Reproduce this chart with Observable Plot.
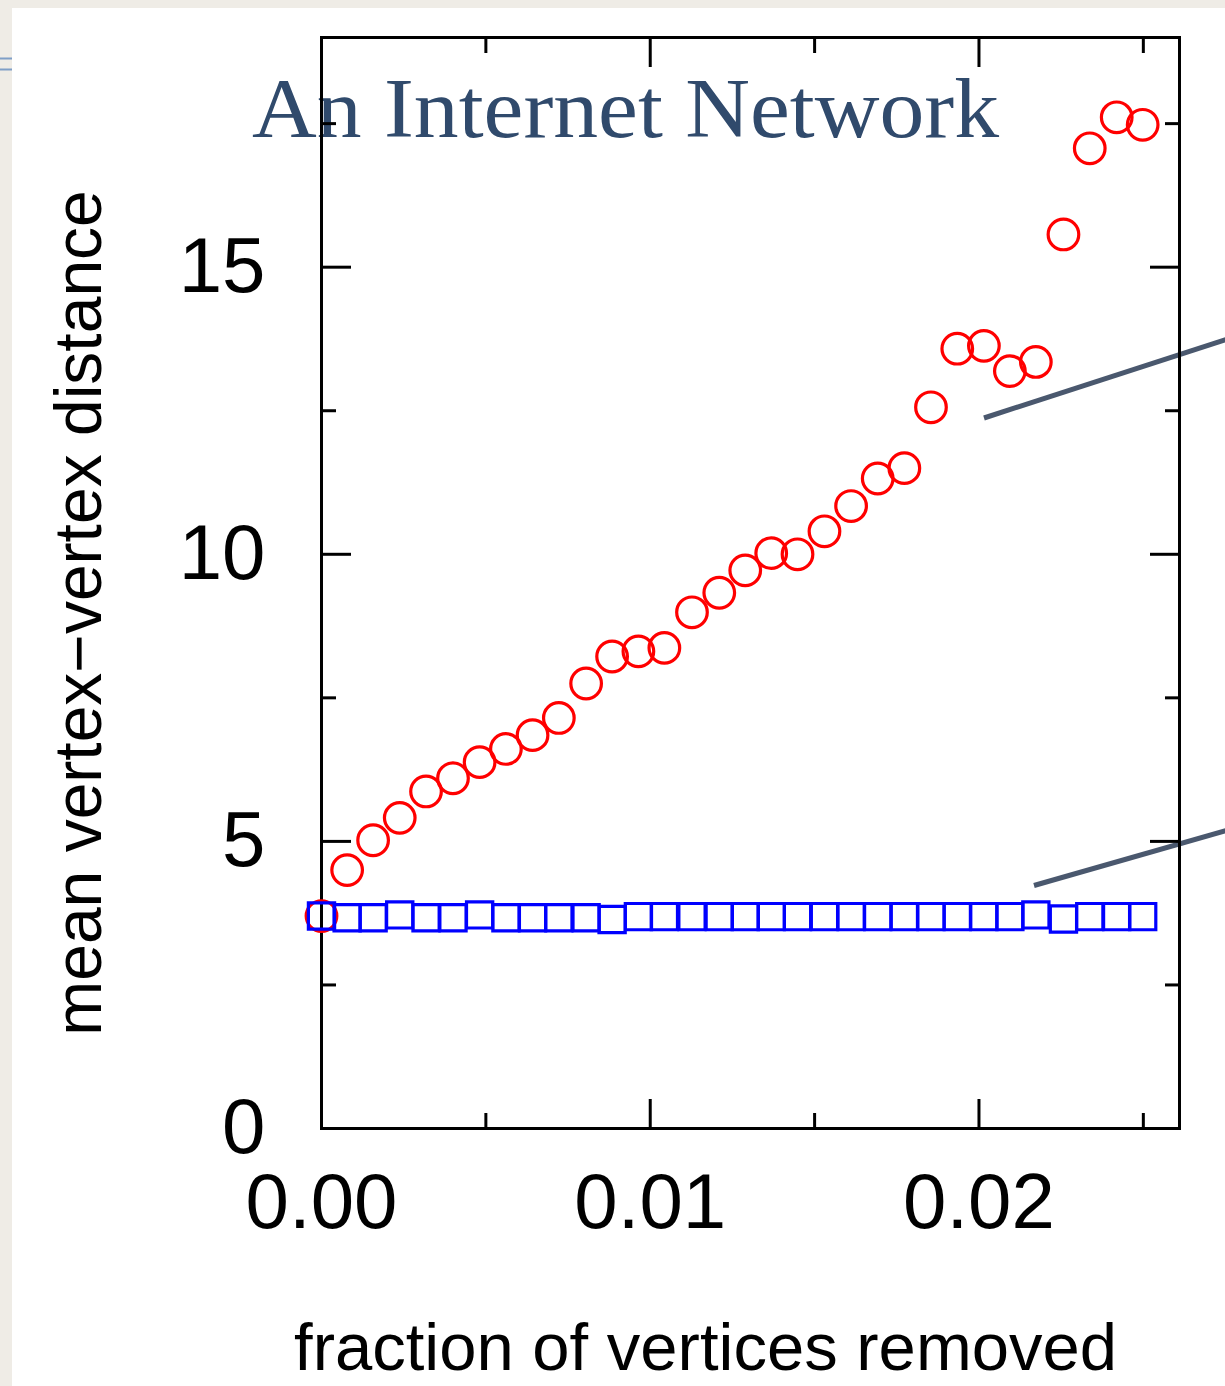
<!DOCTYPE html>
<html>
<head>
<meta charset="utf-8">
<script src="https://cdn.jsdelivr.net/npm/d3@7"></script>
<script src="https://cdn.jsdelivr.net/npm/@observablehq/plot@0.6"></script>
<style>
  html, body { margin: 0; padding: 0; background: #efece6; }
  #wrap { position: relative; width: 1225px; height: 1386px; overflow: hidden; background: #efece6; }
  #panel { position: absolute; left: 12px; top: 8px; right: 0; bottom: 0; background: #ffffff; }
  #deco { position: absolute; left: 0; top: 0; }
  #chart { position: absolute; left: 0; top: 0; }
</style>
</head>
<body>
<div id="wrap">
  <div id="panel"></div>
  <svg id="deco" width="1225" height="1386"></svg>
  <div id="chart"></div>
</div>
<script>
// ---- data ----
const titleText = "An Internet Network";
const xLabel = "fraction of vertices removed";
const yLabel = "mean vertex\u2212vertex distance";

const fractionRemoved = [0, 0.00078, 0.00157, 0.00238, 0.00318, 0.00400, 0.00481, 0.00561,
  0.00642, 0.00722, 0.00805, 0.00884, 0.00964, 0.01043, 0.01127, 0.01210, 0.01289, 0.01368,
  0.01448, 0.01530, 0.01611, 0.01692, 0.01773, 0.01854, 0.01934, 0.02015, 0.02094, 0.02173,
  0.02257, 0.02337, 0.02419, 0.02498];

// red circles: targeted removal (highest degree first)
const targetedDistance = [3.70, 4.50, 5.02, 5.41, 5.87, 6.10, 6.38, 6.61, 6.85, 7.15, 7.75,
  8.22, 8.31, 8.37, 8.99, 9.33, 9.72, 10.02, 10.00, 10.40, 10.84, 11.32, 11.50, 12.56,
  13.58, 13.63, 13.19, 13.35, 15.57, 17.07, 17.61, 17.48];

// blue squares: random removal
const randomDistance = [3.70, 3.67, 3.67, 3.72, 3.67, 3.67, 3.72, 3.67, 3.67, 3.67, 3.67,
  3.64, 3.69, 3.69, 3.69, 3.69, 3.69, 3.69, 3.69, 3.69, 3.69, 3.69, 3.69, 3.69, 3.69, 3.69,
  3.69, 3.72, 3.65, 3.69, 3.69, 3.69];

const xMajorTicks = [0, 0.01, 0.02];
const xMinorTicks = [0.005, 0.015, 0.025];
const yMajorTicks = [0, 5, 10, 15];
const yMinorTicks = [2.5, 7.5, 12.5, 17.5];
const xDomain = [0, 0.0261];
const yDomain = [0, 19];

// ---- decoration (slide elements behind the chart) ----
const deco = d3.select("#deco");
deco.append("line").attr("x1", 0).attr("x2", 12).attr("y1", 58.5).attr("y2", 58.5)
  .attr("stroke", "#7f9fc7").attr("stroke-width", 2);
deco.append("line").attr("x1", 0).attr("x2", 12).attr("y1", 69.5).attr("y2", 69.5)
  .attr("stroke", "#7f9fc7").attr("stroke-width", 2);
deco.append("text").attr("x", 252).attr("y", 137)
  .attr("font-family", "'Liberation Serif', 'DejaVu Serif', serif")
  .attr("font-size", 85).attr("fill", "#304a6c")
  .attr("textLength", 747).attr("lengthAdjust", "spacingAndGlyphs")
  .text(titleText);
deco.append("line").attr("x1", 984).attr("y1", 418).attr("x2", 1226).attr("y2", 339.5)
  .attr("stroke", "#4a586e").attr("stroke-width", 5);
deco.append("line").attr("x1", 1034).attr("y1", 885.5).attr("x2", 1226).attr("y2", 830.5)
  .attr("stroke", "#4a586e").attr("stroke-width", 5);

// ---- chart ----
const targeted = fractionRemoved.map((x, i) => ({x, y: targetedDistance[i]}));
const random = fractionRemoved.map((x, i) => ({x, y: randomDistance[i]}));

const tickW = 3;
const empty = () => "";

const chart = Plot.plot({
  width: 1225,
  height: 1386,
  marginLeft: 321,
  marginRight: 46,
  marginTop: 37,
  marginBottom: 258,
  style: {background: "transparent", fontFamily: "'Liberation Sans', Arial, Helvetica, sans-serif", color: "black"},
  x: {domain: xDomain},
  y: {domain: yDomain},
  marks: [
    // left axis
    Plot.axisY({anchor: "left", ticks: yMajorTicks, tickSize: -30, tickPadding: 86, fontSize: 78,
      tickFormat: d => String(d), strokeWidth: tickW, label: null}),
    Plot.axisY({anchor: "left", ticks: yMinorTicks, tickSize: -15, tickFormat: empty, strokeWidth: tickW, label: null}),
    // right axis (mirrored ticks)
    Plot.axisY({anchor: "right", ticks: yMajorTicks, tickSize: -30, tickFormat: empty, strokeWidth: tickW, label: null}),
    Plot.axisY({anchor: "right", ticks: yMinorTicks, tickSize: -15, tickFormat: empty, strokeWidth: tickW, label: null}),
    // bottom axis
    Plot.axisX({anchor: "bottom", ticks: xMajorTicks, tickSize: -29, tickPadding: 73, fontSize: 78,
      tickFormat: d3.format(".2f"), strokeWidth: tickW, label: null}),
    Plot.axisX({anchor: "bottom", ticks: xMinorTicks, tickSize: -15, tickFormat: empty, strokeWidth: tickW, label: null}),
    // top axis (mirrored ticks)
    Plot.axisX({anchor: "top", ticks: xMajorTicks, tickSize: -29, tickFormat: empty, strokeWidth: tickW, label: null}),
    Plot.axisX({anchor: "top", ticks: xMinorTicks, tickSize: -15, tickFormat: empty, strokeWidth: tickW, label: null}),
    Plot.frame({stroke: "black", strokeWidth: 3}),
    // axis titles
    Plot.text([xLabel], {text: d => d, frameAnchor: "bottom", lineAnchor: "bottom", textAnchor: "middle",
      dx: -45, dy: 241, fontSize: 67}),
    Plot.text([yLabel], {text: d => d, frameAnchor: "left", rotate: -90, lineAnchor: "bottom", textAnchor: "middle",
      dx: -221, dy: 30, fontSize: 66}),
    // data
    Plot.dot(targeted, {x: "x", y: "y", r: 15.3, stroke: "#ff0000", strokeWidth: 3.2, fill: "none"}),
    Plot.dot(random, {x: "x", y: "y", r: 14.8, symbol: "square", stroke: "#0000ff", strokeWidth: 3.2, fill: "none"})
  ]
});
document.getElementById("chart").appendChild(chart);
</script>
</body>
</html>
